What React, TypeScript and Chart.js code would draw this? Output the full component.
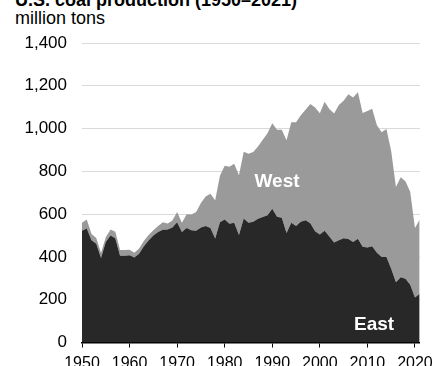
import React, { useEffect, useRef } from 'react';
import { Chart, registerables } from 'chart.js';

Chart.register(...registerables);

const years = [
  1950, 1951, 1952, 1953, 1954, 1955, 1956, 1957, 1958, 1959,
  1960, 1961, 1962, 1963, 1964, 1965, 1966, 1967, 1968, 1969,
  1970, 1971, 1972, 1973, 1974, 1975, 1976, 1977, 1978, 1979,
  1980, 1981, 1982, 1983, 1984, 1985, 1986, 1987, 1988, 1989,
  1990, 1991, 1992, 1993, 1994, 1995, 1996, 1997, 1998, 1999,
  2000, 2001, 2002, 2003, 2004, 2005, 2006, 2007, 2008, 2009,
  2010, 2011, 2012, 2013, 2014, 2015, 2016, 2017, 2018, 2019,
  2020, 2021,
];

// million tons, east of the Mississippi
const east = [
  522, 533, 478, 462, 395, 470, 500, 487, 406, 405,
  408, 397, 415, 450, 477, 500, 517, 527, 528, 538,
  562, 517, 535, 525, 522, 538, 545, 535, 486, 562,
  575, 555, 560, 502, 580, 560, 565, 578, 587, 595,
  625, 588, 583, 512, 560, 545, 565, 572, 557, 520,
  505, 522, 495, 468, 478, 487, 484, 470, 485, 448,
  444, 450, 420, 400, 400, 345, 282, 305, 298, 270,
  210, 228,
];

// million tons, west of the Mississippi
const west = [
  38, 42, 29, 26, 23, 22, 28, 31, 26, 27,
  26, 23, 24, 25, 25, 25, 28, 35, 28, 32,
  48, 43, 65, 73, 88, 114, 138, 160, 179, 218,
  251, 267, 276, 280, 312, 322, 325, 338, 361, 383,
  400, 407, 412, 433, 470, 485, 497, 516, 558, 578,
  567, 603, 597, 602, 632, 643, 676, 675, 685, 625,
  638, 643, 595, 583, 598, 550, 445, 467, 456, 435,
  325, 347,
];

const xTicks = [1950, 1960, 1970, 1980, 1990, 2000, 2010, 2020];
const yTicks = [0, 200, 400, 600, 800, 1000, 1200, 1400];

const areaLabels = [
  { text: 'West', year: 1991, value: 750 },
  { text: 'East', year: 2011.4, value: 82 },
];

const FONT = '"Liberation Sans", Arial, Helvetica, sans-serif';

const labelPlugin = {
  id: 'areaLabels',
  afterDatasetsDraw(chart: any) {
    const { ctx, scales } = chart;
    ctx.save();
    ctx.font = `bold 19px ${FONT}`;
    ctx.fillStyle = '#ffffff';
    ctx.textAlign = 'center';
    ctx.textBaseline = 'middle';
    areaLabels.forEach((l) => {
      ctx.fillText(l.text, scales.x.getPixelForValue(l.year), scales.y.getPixelForValue(l.value));
    });
    ctx.restore();
  },
};

export default function App() {
  const ref = useRef<HTMLCanvasElement | null>(null);

  useEffect(() => {
    if (!ref.current) return;
    const chart = new Chart(ref.current, {
      type: 'line',
      data: {
        datasets: [
          {
            label: 'East',
            data: years.map((yr, i) => ({ x: yr, y: east[i] })),
            backgroundColor: '#282828',
            borderColor: '#282828',
            borderWidth: 0,
            pointRadius: 0,
            fill: 'origin',
            tension: 0,
          },
          {
            label: 'West',
            data: years.map((yr, i) => ({ x: yr, y: west[i] })),
            backgroundColor: '#9a9a9a',
            borderColor: '#9a9a9a',
            borderWidth: 0,
            pointRadius: 0,
            fill: '-1',
            tension: 0,
          },
        ],
      },
      options: {
        animation: false,
        responsive: false,
        maintainAspectRatio: false,
        events: [],
        layout: { padding: { left: 0, right: 17, top: 43, bottom: 0 } },
        plugins: {
          legend: { display: false },
          tooltip: { enabled: false },
          title: { display: false },
        },
        scales: {
          x: {
            type: 'linear',
            min: 1950,
            max: 2021,
            afterBuildTicks: (s: any) => {
              s.ticks = xTicks.map((v) => ({ value: v }));
            },
            afterFit: (s: any) => {
              s.height = 37.5;
            },
            grid: {
              display: true,
              drawOnChartArea: false,
              drawTicks: true,
              tickLength: 5,
              tickColor: '#000000',
              tickWidth: 1,
            },
            border: { display: true, color: '#000000', width: 1.5 },
            ticks: {
              autoSkip: false,
              maxRotation: 0,
              padding: 6,
              color: '#000000',
              font: { family: FONT, size: 16 },
              callback: (v: any) => String(v),
            },
          },
          y: {
            stacked: true,
            min: 0,
            max: 1400,
            afterBuildTicks: (s: any) => {
              s.ticks = yTicks.map((v) => ({ value: v }));
            },
            afterFit: (s: any) => {
              s.width = 82;
            },
            grid: {
              color: '#d9d9d9',
              lineWidth: 1,
              drawTicks: false,
            },
            border: { display: false },
            ticks: {
              padding: 15,
              color: '#000000',
              font: { family: FONT, size: 17 },
              callback: (v: any) => Number(v).toLocaleString('en-US'),
            },
          },
        },
      },
      plugins: [labelPlugin],
    });
    return () => chart.destroy();
  }, []);

  return (
    <div
      style={{
        position: 'fixed',
        left: 0,
        top: 0,
        width: 439,
        height: 366,
        overflow: 'hidden',
        background: '#ffffff',
        fontFamily: FONT,
      }}
    >
      <div
        style={{
          position: 'absolute',
          left: 15,
          top: -10,
          fontSize: 18,
          fontWeight: 'bold',
          whiteSpace: 'nowrap',
          color: '#000',
        }}
      >
        U.S. coal production (1950–2021)
      </div>
      <div
        style={{
          position: 'absolute',
          left: 15,
          top: 8,
          fontSize: 18,
          whiteSpace: 'nowrap',
          color: '#000',
        }}
      >
        million tons
      </div>
      <canvas
        ref={ref}
        width={439}
        height={380}
        style={{ position: 'absolute', left: 0, top: 0, width: 439, height: 380 }}
      />
    </div>
  );
}
